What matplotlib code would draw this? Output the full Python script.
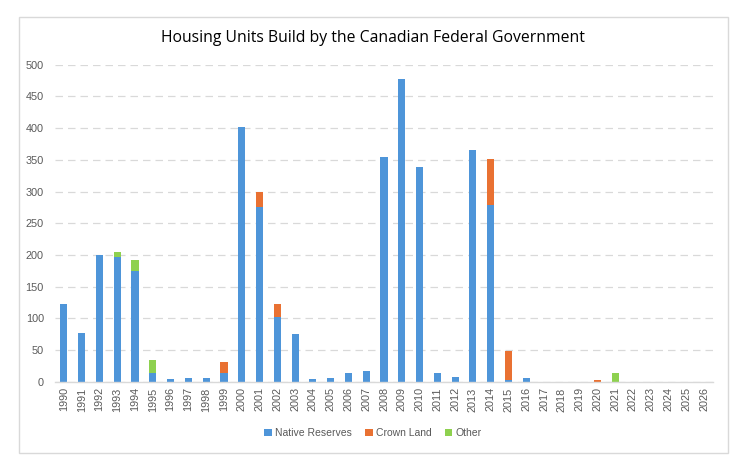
import matplotlib
matplotlib.use("Agg")
import matplotlib.pyplot as plt
from matplotlib.patches import Rectangle
import numpy as np

years = [str(y) for y in range(1990, 2027)]
native_reserves = [123, 77, 200, 197, 175, 13, 5, 6, 6, 14, 402, 276, 102, 76,
                   5, 6, 13, 17, 355, 478, 339, 13, 8, 366, 278, 3, 6,
                   0, 0, 0, 0, 0, 0, 0, 0, 0, 0]
crown_land = [0, 0, 0, 0, 0, 0, 0, 0, 0, 17, 0, 24, 21, 0,
              0, 0, 0, 0, 0, 0, 0, 0, 0, 0, 74, 46, 0,
              0, 0, 0, 3, 0, 0, 0, 0, 0, 0]
other = [0, 0, 0, 8, 17, 22, 0, 0, 0, 0, 0, 0, 0, 0,
         0, 0, 0, 0, 0, 0, 0, 0, 0, 0, 0, 0, 0,
         0, 0, 0, 0, 13, 0, 0, 0, 0, 0]
yticks = [0, 50, 100, 150, 200, 250, 300, 350, 400, 450, 500]

c_blue = "#4E95D9"
c_orange = "#E97132"
c_green = "#8ED14F"
txt = "#595959"

fig = plt.figure(figsize=(7.44, 4.68), dpi=100)
fig.patches.append(Rectangle((18.5 / 744, 1 - 453 / 468), (728 - 18.5) / 744, (453 - 16.5) / 468,
                             transform=fig.transFigure, fill=False, edgecolor="#D9D9D9", linewidth=1))
ax = fig.add_axes([55 / 744, 1 - 381.7 / 468, (713 - 55) / 744, (381.7 - 64.7) / 468])

x = np.arange(len(years))
nr = np.array(native_reserves)
cl = np.array(crown_land)
ot = np.array(other)
w = 0.4
ax.bar(x, nr, w, color=c_blue, label="Native Reserves", zorder=3)
ax.bar(x, cl, w, bottom=nr, color=c_orange, label="Crown Land", zorder=3)
ax.bar(x, ot, w, bottom=nr + cl, color=c_green, label="Other", zorder=3)

ax.set_xlim(-0.5, len(years) - 0.5)
ax.set_ylim(0, 500)
ax.set_yticks(yticks)
ax.set_yticklabels([str(v) for v in yticks], fontsize=7.8, color=txt, family="Liberation Sans")
ax.set_xticks(x)
ax.set_xticklabels(years, rotation=90, fontsize=7.8, color=txt, family="Liberation Sans")
ax.tick_params(axis="both", length=0)
ax.tick_params(axis="y", pad=8)
ax.tick_params(axis="x", pad=4)
ax.grid(axis="y", color="#D9D9D9", linestyle=(0, (6, 4)), linewidth=0.9, zorder=0)
for s in ["top", "right", "left"]:
    ax.spines[s].set_visible(False)
ax.spines["bottom"].set_color("#D9D9D9")
ax.spines["bottom"].set_linewidth(1)
ax.spines["bottom"].set_zorder(4)

fig.text(373 / 744, 1 - 38 / 468, "Housing Units Build by the Canadian Federal Government",
         ha="center", va="center", fontsize=11.3, color="#000000", family="Open Sans")

leg = fig.legend(loc="center", bbox_to_anchor=(373 / 744, 1 - 433 / 468), ncol=3, frameon=False,
                 handlelength=0.7, handleheight=0.7, handletextpad=0.3,
                 columnspacing=1.3, prop={"family": "Liberation Sans", "size": 7.5})
for t in leg.get_texts():
    t.set_color(txt)

fig.savefig("out.png", dpi=100)
